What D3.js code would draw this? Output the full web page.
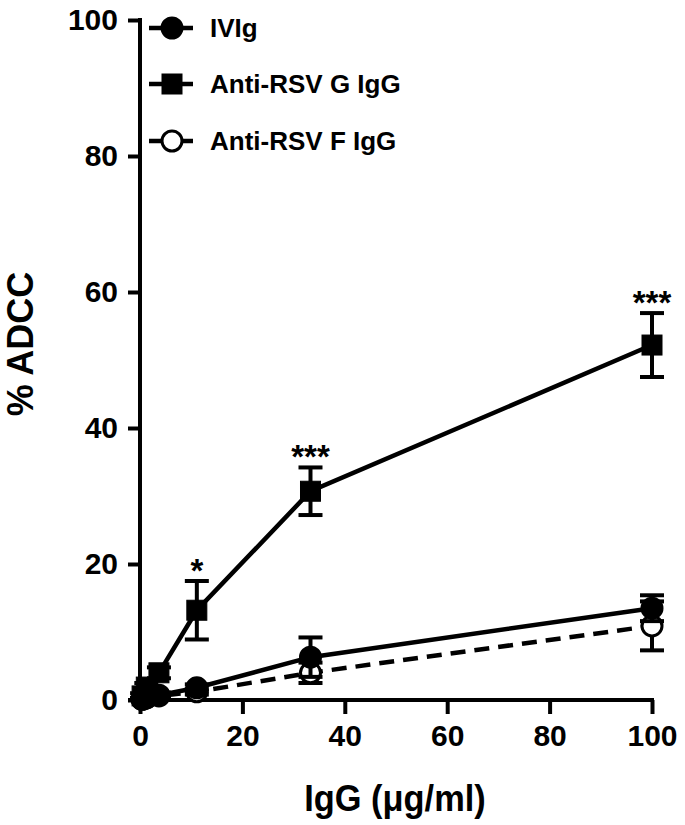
<!DOCTYPE html>
<html><head><meta charset="utf-8">
<script src="https://cdn.jsdelivr.net/npm/d3@7"></script>
<style>body{margin:0;background:#fff}</style>
</head><body>
<script>
const conc = [0.41, 1.23, 3.7, 11.1, 33.3, 100];
const ivigMean = [0.1, 0.3, 0.7, 1.8, 6.3, 13.5];
const ivigErr  = [0.2, 0.3, 0.4, 0.5, 2.9, 1.9];
const gMean = [0.6, 1.9, 4.0, 13.2, 30.7, 52.2];
const gErr  = [0.4, 0.6, 0.8, 4.3, 3.5, 4.7];
const fMean = [0.1, 0.3, 0.6, 1.2, 4.0, 10.9];
const fErr  = [0.2, 0.3, 0.3, 0.4, 1.5, 3.6];
const sigLabels = ["", "", "", "*", "***", "***"];
const xTicks = [0, 20, 40, 60, 80, 100];
const yTicks = [0, 20, 40, 60, 80, 100];
const seriesNames = ["IVIg", "Anti-RSV G IgG", "Anti-RSV F IgG"];

const W = 685, H = 825;
const svg = d3.select("body").append("svg").attr("width", W).attr("height", H);
const x = d3.scaleLinear().domain([0, 100]).range([140, 652]);
const y = d3.scaleLinear().domain([0, 100]).range([700, 20]);
const font = "'Liberation Sans', Arial, sans-serif";

// axes
const xAxis = svg.append("g").attr("transform", "translate(0,700)")
  .call(d3.axisBottom(x).tickValues(xTicks).tickSize(14).tickSizeOuter(0).tickPadding(11));
const yAxis = svg.append("g").attr("transform", "translate(140,0)")
  .call(d3.axisLeft(y).tickValues(yTicks).tickSize(12).tickSizeOuter(0).tickPadding(10));
[xAxis, yAxis].forEach(g => {
  g.select(".domain").attr("stroke", "#000").attr("stroke-width", 4);
  g.selectAll(".tick line").attr("stroke", "#000").attr("stroke-width", 4);
  g.selectAll(".tick text").attr("fill", "#000").style("font-family", font)
    .style("font-weight", "bold").style("font-size", "30px");
});
xAxis.select(".domain").attr("d", `M${x(0)-12},0H${x(100)+2}`);
yAxis.select(".domain").attr("d", `M0,${y(100)-2}V${y(0)+2}`);

// titles
svg.append("text").attr("transform", "translate(395,811) scale(0.93,1)").attr("text-anchor", "middle")
  .style("font-family", font).style("font-weight", "bold").style("font-size", "37px").text("IgG (\u03bcg/ml)");
svg.append("text").attr("transform", "translate(33,344) rotate(-90)").attr("text-anchor", "middle")
  .style("font-family", font).style("font-weight", "bold").style("font-size", "36px").text("% ADCC");

const series = [
  {mean: ivigMean, err: ivigErr, shape: "circle", fill: "#000", dash: null},
  {mean: gMean, err: gErr, shape: "square", fill: "#000", dash: null},
  {mean: fMean, err: fErr, shape: "circle", fill: "#fff", dash: "15,9"},
];

const line = d3.line().x(d => x(d[0])).y(d => y(d[1]));
function drawMarker(g, shape, fill, cx, cy) {
  if (shape === "circle") {
    g.append("circle").attr("cx", cx).attr("cy", cy).attr("r", 10)
      .attr("fill", fill).attr("stroke", "#000").attr("stroke-width", 3);
  } else {
    g.append("rect").attr("x", cx - 10).attr("y", cy - 10).attr("width", 20).attr("height", 20)
      .attr("fill", fill).attr("stroke", "#000").attr("stroke-width", 1);
  }
}

// draw order: F (back), IVIg, G on top
[2, 0, 1].forEach(si => {
  const s = series[si];
  const g = svg.append("g");
  const pts = conc.map((c, i) => [c, s.mean[i]]);
  g.append("path").attr("d", line(pts)).attr("fill", "none").attr("stroke", "#000")
    .attr("stroke-width", 4.5).attr("stroke-dasharray", s.dash);
  conc.forEach((c, i) => {
    const cx = x(c), top = y(s.mean[i] + s.err[i]), bot = y(Math.max(0, s.mean[i] - s.err[i]));
    g.append("line").attr("x1", cx).attr("x2", cx).attr("y1", top).attr("y2", bot)
      .attr("stroke", "#000").attr("stroke-width", 4);
    [top, bot].forEach(yy => g.append("line").attr("x1", cx - 12).attr("x2", cx + 12)
      .attr("y1", yy).attr("y2", yy).attr("stroke", "#000").attr("stroke-width", 4));
    drawMarker(g, s.shape, s.fill, cx, y(s.mean[i]));
  });
});

// significance
conc.forEach((c, i) => {
  if (!sigLabels[i]) return;
  svg.append("text").attr("x", x(c)).attr("y", y(gMean[i] + gErr[i]) + 1).attr("text-anchor", "middle")
    .style("font-family", font).style("font-weight", "bold")
    .style("font-size", "33px").text(sigLabels[i]);
});

// legend
const legendY = [28, 84, 141];
series.forEach((s, i) => {
  const g = svg.append("g");
  g.append("line").attr("x1", 149).attr("x2", 193).attr("y1", legendY[i]).attr("y2", legendY[i])
    .attr("stroke", "#000").attr("stroke-width", 4.5);
  drawMarker(g, s.shape, s.fill, 172, legendY[i]);
  g.append("text").attr("x", 210).attr("y", legendY[i] + 9)
    .style("font-family", font).style("font-weight", "bold")
    .style("font-size", "26px").text(seriesNames[i]);
});
</script>
</body></html>
